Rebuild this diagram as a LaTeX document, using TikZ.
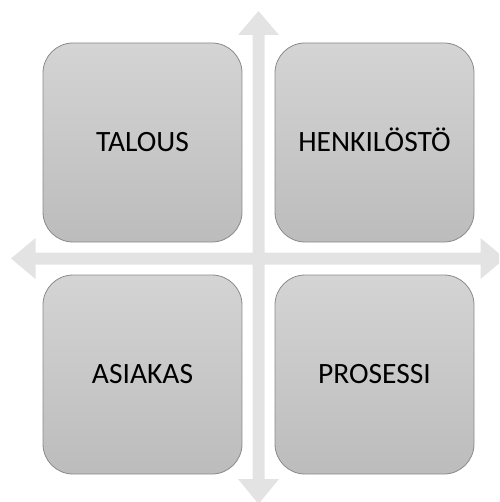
\documentclass[tikz,border=0pt]{standalone}
\usepackage{fontspec}
\setmainfont{Carlito}
\definecolor{boxtop}{HTML}{D4D4D4}
\definecolor{boxbot}{HTML}{BCBCBC}
\definecolor{boxline}{HTML}{8A8A8A}
\definecolor{arrowgray}{HTML}{E3E3E3}
\begin{document}
\begin{tikzpicture}[x=1pt,y=-1pt,
  quad/.style={rectangle, rounded corners=30pt, minimum width=199pt, minimum height=199pt,
    draw=boxline, line width=0.8pt, top color=boxtop, bottom color=boxbot,
    font=\fontsize{29.5}{34}\selectfont, text=black, inner sep=0pt,
    text height=18.5pt, text depth=0pt},
  axisfill/.style={fill=arrowgray, draw=none}]
\useasboundingbox (0,0) rectangle (499,502);
\clip (0,0) rectangle (499,502);
% axes
\coordinate (c) at (258.5,258.5);
\fill[axisfill] (258.5,11) -- (279,35) -- (264.5,35) -- (264.5,479) -- (279,479) -- (258.5,504)
  -- (238,479) -- (252.5,479) -- (252.5,35) -- (238,35) -- cycle;
\fill[axisfill] (11,258.5) -- (35.5,238) -- (35.5,252.5) -- (480.5,252.5) -- (480.5,238) -- (505,258.5)
  -- (480.5,279) -- (480.5,264.5) -- (35.5,264.5) -- (35.5,279) -- cycle;
% boxes
\node[quad] (talous) at (142.5,142.5) {TALOUS};
\node[quad] (henk) at (374.5,142.5) {HENKILÖSTÖ};
\node[quad] (asiakas) at (142.5,374.5) {ASIAKAS};
\node[quad] (prosessi) at (374.5,374.5) {PROSESSI};
\end{tikzpicture}
\end{document}
